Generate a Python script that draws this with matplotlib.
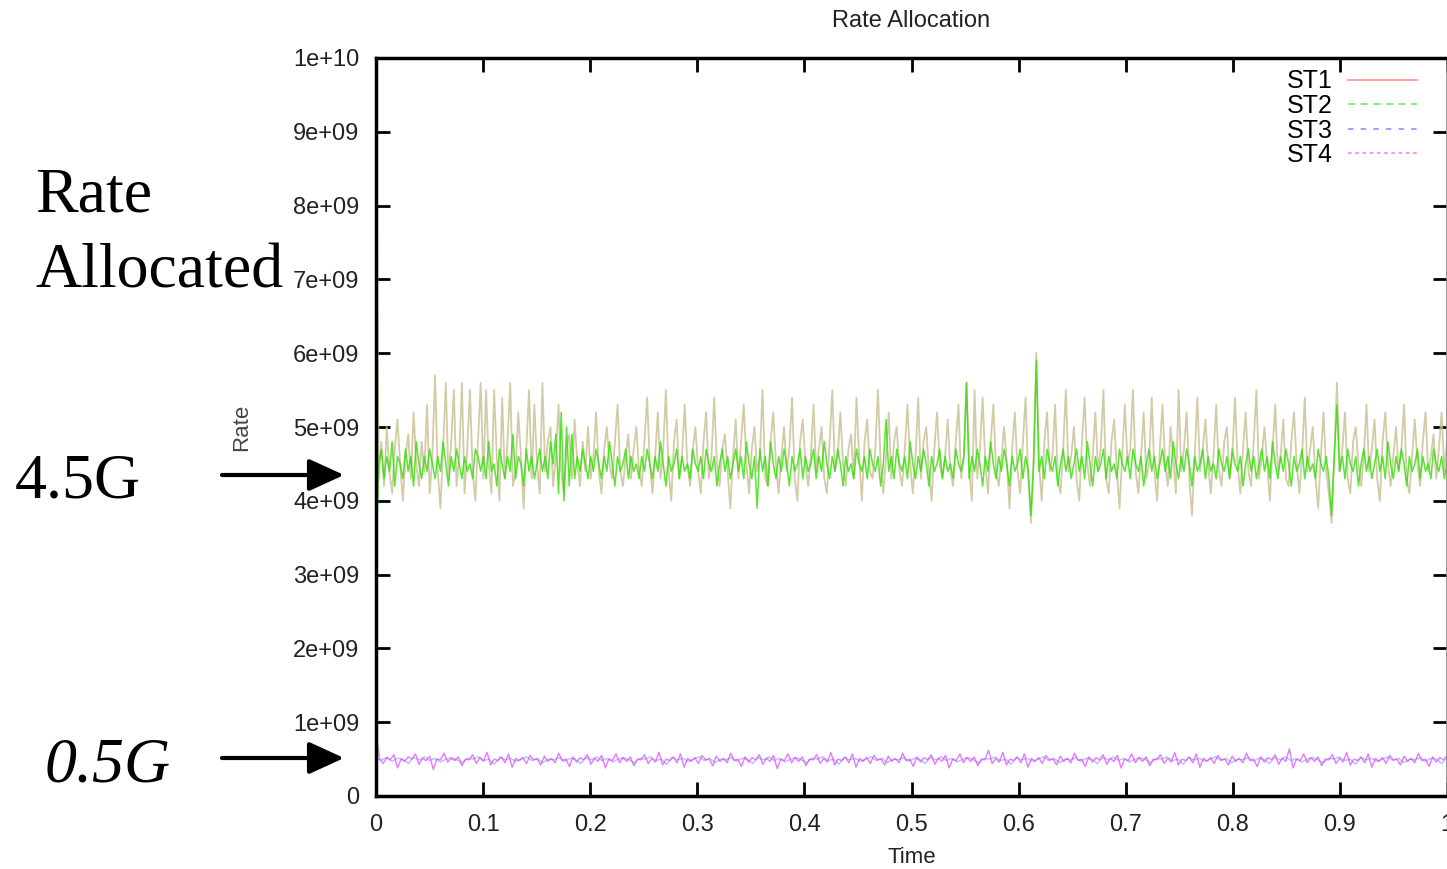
#!/usr/bin/python3

import numpy as np
import matplotlib
matplotlib.use("Agg")
import matplotlib.pyplot as plt

# rates in units of 1e9, sampled evenly over 0..1 s
st1 = [
  10.0, 4.3, 4.8, 4.2, 5.0, 4.4, 4.1, 4.7, 5.1, 4.5, 4.0, 4.6, 4.9, 4.3, 5.2, 4.5, 4.2, 4.8, 4.4, 5.3,
  4.1, 4.6, 5.7, 4.4, 3.9, 4.7, 5.6, 4.3, 4.8, 5.5, 4.2, 4.6, 5.6, 4.1, 4.7, 5.5, 4.4, 4.0, 4.8, 5.6,
  4.3, 5.5, 4.5, 4.1, 5.5, 4.6, 4.0, 5.4, 4.3, 4.8, 5.6, 4.2, 4.4, 5.2, 4.6, 3.9, 4.7, 5.5, 4.3, 5.3,
  4.5, 4.1, 5.6, 4.4, 4.8, 5.0, 4.2, 4.6, 5.3, 4.4, 4.1, 4.7, 4.9, 4.3, 5.1, 4.5, 4.2, 4.8, 4.4, 5.0,
  4.3, 4.6, 5.2, 4.4, 4.1, 4.7, 5.0, 4.5, 4.3, 4.8, 5.3, 4.4, 4.2, 4.6, 4.9, 4.3, 4.7, 5.0, 4.4, 4.2,
  4.8, 5.4, 4.5, 4.1, 4.6, 5.2, 4.3, 4.7, 5.5, 4.4, 4.0, 4.8, 5.1, 4.3, 4.6, 5.3, 4.5, 4.2, 4.7, 5.0,
  4.4, 4.1, 4.8, 5.2, 4.3, 4.6, 5.4, 4.5, 4.2, 4.7, 4.9, 4.4, 3.9, 4.6, 5.1, 4.3, 4.8, 5.3, 4.5, 4.1,
  4.7, 5.0, 4.4, 4.6, 5.5, 4.3, 4.2, 4.8, 5.2, 4.5, 4.1, 4.6, 5.0, 4.4, 4.7, 5.4, 4.3, 4.0, 4.8, 5.1,
  4.5, 4.2, 4.6, 5.3, 4.4, 4.7, 5.0, 4.3, 4.1, 4.8, 5.5, 4.4, 4.6, 5.2, 4.5, 4.2, 4.7, 4.9, 4.3, 5.4,
  4.6, 4.0, 4.8, 5.1, 4.4, 4.3, 4.7, 5.5, 4.5, 4.1, 4.6, 5.2, 4.3, 4.8, 5.0, 4.4, 4.2, 4.7, 5.3, 4.5,
  4.1, 4.6, 5.4, 4.3, 4.8, 5.0, 4.4, 4.0, 4.7, 5.2, 4.5, 4.3, 4.6, 5.1, 4.4, 4.2, 4.8, 5.3, 4.3, 4.6,
  5.6, 4.4, 4.0, 5.5, 4.3, 4.7, 5.4, 4.5, 4.1, 4.8, 5.3, 4.4, 4.2, 4.6, 5.0, 4.5, 3.9, 4.7, 5.2, 4.4,
  4.1, 4.8, 5.4, 4.3, 3.7, 4.6, 6.0, 4.5, 4.0, 4.8, 5.2, 4.4, 4.6, 5.3, 4.3, 4.1, 4.7, 5.5, 4.4, 4.6,
  5.0, 4.3, 4.0, 4.8, 5.4, 4.5, 4.2, 4.6, 5.2, 4.4, 4.7, 5.5, 4.3, 4.1, 4.8, 5.1, 4.4, 3.9, 4.6, 5.3,
  4.5, 4.7, 5.5, 4.4, 4.1, 4.6, 5.2, 4.3, 4.5, 5.4, 4.4, 4.0, 4.7, 5.3, 4.5, 4.2, 5.0, 4.6, 4.1, 5.5,
  4.4, 4.7, 5.2, 4.3, 3.8, 4.6, 5.4, 4.4, 4.7, 5.1, 4.5, 4.1, 4.6, 5.3, 4.4, 4.2, 4.8, 5.0, 4.3, 4.6,
  5.4, 4.5, 4.1, 4.7, 5.2, 4.4, 4.2, 4.8, 5.5, 4.3, 4.6, 5.0, 4.5, 4.0, 4.7, 5.3, 4.4, 4.6, 5.1, 4.3,
  4.2, 4.8, 5.2, 4.5, 4.1, 4.6, 5.4, 4.4, 4.7, 5.0, 4.3, 3.9, 4.6, 5.2, 4.4, 4.1, 3.7, 4.6, 5.6, 4.4,
  4.7, 5.2, 4.3, 4.1, 4.8, 5.0, 4.5, 4.2, 4.6, 5.3, 4.4, 4.7, 5.1, 4.3, 4.0, 4.8, 5.2, 4.5, 4.2, 4.6,
  5.0, 4.4, 4.7, 5.3, 4.3, 4.1, 4.6, 5.1, 4.5, 4.2, 4.8, 5.2, 4.4, 4.6, 4.9, 4.3, 4.7, 5.2, 4.4, 4.8,
]
st2 = [
  3.2, 4.5, 4.7, 4.3, 4.6, 4.4, 4.8, 4.2, 4.6, 4.5, 4.3, 4.7, 4.4, 4.6, 4.2, 4.8, 4.5, 4.3, 4.6, 4.4,
  4.7, 4.5, 4.3, 4.6, 4.4, 4.8, 4.5, 4.2, 4.6, 4.4, 4.7, 4.5, 4.3, 4.6, 4.4, 4.5, 4.3, 4.7, 4.6, 4.4,
  4.6, 4.3, 4.8, 4.4, 4.5, 4.2, 4.7, 4.5, 4.3, 4.6, 4.4, 4.9, 4.3, 4.6, 4.5, 4.2, 4.7, 4.4, 4.6, 4.3,
  4.5, 4.7, 4.4, 4.6, 4.3, 4.8, 4.5, 4.9, 4.1, 5.2, 4.0, 5.0, 4.2, 4.9, 4.3, 4.6, 4.4, 4.7, 4.5, 4.3,
  4.6, 4.4, 4.7, 4.5, 4.3, 4.6, 4.4, 4.8, 4.5, 4.2, 4.6, 4.4, 4.5, 4.7, 4.3, 4.6, 4.4, 4.5, 4.3, 4.6,
  4.4, 4.7, 4.5, 4.3, 4.6, 4.4, 4.8, 4.5, 4.2, 4.6, 4.4, 4.5, 4.7, 4.3, 4.6, 4.4, 4.5, 4.3, 4.7, 4.5,
  4.4, 4.6, 4.3, 4.7, 4.5, 4.4, 4.6, 4.2, 4.5, 4.7, 4.4, 4.6, 4.3, 4.5, 4.7, 4.4, 4.6, 4.3, 4.8, 4.5,
  4.3, 4.6, 3.9, 4.7, 4.4, 4.6, 4.2, 4.8, 4.5, 4.3, 4.6, 4.4, 4.7, 4.5, 4.2, 4.6, 4.4, 4.5, 4.7, 4.3,
  4.6, 4.4, 4.5, 4.7, 4.3, 4.6, 4.4, 4.8, 4.5, 4.3, 4.6, 4.4, 4.7, 4.5, 4.2, 4.6, 4.4, 4.5, 4.3, 4.7,
  4.5, 4.4, 4.6, 4.3, 4.7, 4.5, 4.4, 4.6, 4.2, 4.5, 5.1, 4.4, 4.6, 4.3, 4.7, 4.5, 4.4, 4.6, 4.3, 4.8,
  4.5, 4.3, 4.6, 4.4, 4.7, 4.5, 4.2, 4.6, 4.4, 4.5, 4.7, 4.3, 4.6, 4.4, 4.5, 4.3, 4.7, 4.5, 4.4, 4.6,
  5.6, 4.3, 4.6, 4.4, 4.7, 4.5, 4.2, 4.6, 4.4, 4.8, 4.5, 4.3, 4.6, 4.4, 4.7, 4.5, 4.2, 4.6, 4.4, 4.5,
  4.7, 4.3, 4.6, 4.4, 3.8, 4.5, 5.9, 4.4, 4.6, 4.3, 4.7, 4.5, 4.4, 4.6, 4.2, 4.5, 4.7, 4.4, 4.6, 4.3,
  4.5, 4.7, 4.4, 4.6, 4.3, 4.8, 4.5, 4.2, 4.6, 4.4, 4.5, 4.7, 4.3, 4.6, 4.4, 4.5, 4.3, 4.7, 4.5, 4.4,
  4.6, 4.3, 4.7, 4.5, 4.4, 4.6, 4.2, 4.5, 4.7, 4.4, 4.6, 4.3, 4.5, 4.7, 4.4, 4.6, 4.3, 4.8, 4.5, 4.3,
  4.6, 4.4, 4.7, 4.5, 4.2, 4.6, 4.4, 4.5, 4.7, 4.3, 4.6, 4.4, 4.5, 4.3, 4.7, 4.5, 4.4, 4.6, 4.3, 4.7,
  4.5, 4.4, 4.6, 4.2, 4.5, 4.7, 4.4, 4.6, 4.3, 4.5, 4.7, 4.4, 4.6, 4.3, 4.8, 4.5, 4.3, 4.6, 4.4, 4.7,
  4.5, 4.2, 4.6, 4.4, 4.5, 4.7, 4.3, 4.6, 4.4, 4.5, 4.3, 4.7, 4.5, 4.4, 4.6, 4.3, 3.8, 4.6, 5.3, 4.4,
  4.6, 4.3, 4.7, 4.5, 4.4, 4.6, 4.2, 4.5, 4.7, 4.4, 4.6, 4.3, 4.5, 4.7, 4.4, 4.6, 4.3, 4.8, 4.5, 4.3,
  4.6, 4.4, 4.7, 4.5, 4.2, 4.6, 4.4, 4.5, 4.7, 4.3, 4.6, 4.4, 4.5, 4.3, 4.7, 4.5, 4.4, 4.6, 4.3, 4.5,
]
st3 = [
  0.50, 0.49, 0.52, 0.47, 0.51, 0.50, 0.44, 0.52, 0.49, 0.53, 0.48, 0.51, 0.46, 0.50, 0.52, 0.49, 0.45, 0.51, 0.50, 0.53,
  0.48, 0.50, 0.43, 0.52, 0.49, 0.51, 0.47, 0.50, 0.53, 0.48, 0.51, 0.45, 0.50, 0.49, 0.52, 0.47, 0.51, 0.50, 0.44, 0.52,
  0.49, 0.53, 0.48, 0.51, 0.46, 0.50, 0.52, 0.49, 0.45, 0.51, 0.50, 0.53, 0.48, 0.50, 0.43, 0.52, 0.49, 0.51, 0.47, 0.50,
  0.53, 0.48, 0.51, 0.45, 0.50, 0.49, 0.52, 0.47, 0.51, 0.50, 0.44, 0.52, 0.49, 0.53, 0.48, 0.51, 0.46, 0.50, 0.52, 0.49,
  0.45, 0.51, 0.50, 0.53, 0.48, 0.50, 0.43, 0.52, 0.49, 0.51, 0.47, 0.50, 0.53, 0.48, 0.51, 0.45, 0.50, 0.49, 0.52, 0.47,
  0.51, 0.50, 0.44, 0.52, 0.49, 0.53, 0.48, 0.51, 0.46, 0.50, 0.52, 0.49, 0.45, 0.51, 0.50, 0.53, 0.48, 0.50, 0.43, 0.52,
  0.49, 0.51, 0.47, 0.50, 0.53, 0.48, 0.51, 0.45, 0.50, 0.49, 0.52, 0.47, 0.51, 0.50, 0.44, 0.52, 0.49, 0.53, 0.48, 0.51,
  0.46, 0.50, 0.52, 0.49, 0.45, 0.51, 0.50, 0.53, 0.48, 0.50, 0.43, 0.52, 0.49, 0.51, 0.47, 0.50, 0.53, 0.48, 0.51, 0.45,
  0.50, 0.49, 0.52, 0.47, 0.51, 0.50, 0.44, 0.52, 0.49, 0.53, 0.48, 0.51, 0.46, 0.50, 0.52, 0.49, 0.45, 0.51, 0.50, 0.53,
  0.48, 0.50, 0.43, 0.52, 0.49, 0.51, 0.47, 0.50, 0.53, 0.48, 0.51, 0.45, 0.50, 0.49, 0.52, 0.47, 0.51, 0.50, 0.44, 0.52,
]
st4 = [
  0.85, 0.50, 0.44, 0.52, 0.49, 0.56, 0.38, 0.50, 0.47, 0.53, 0.50, 0.57, 0.43, 0.51, 0.48, 0.54, 0.36, 0.50, 0.49, 0.58,
  0.46, 0.51, 0.48, 0.53, 0.41, 0.50, 0.49, 0.56, 0.44, 0.52, 0.47, 0.59, 0.42, 0.50, 0.48, 0.53, 0.45, 0.57, 0.39, 0.51,
  0.48, 0.52, 0.44, 0.55, 0.49, 0.50, 0.42, 0.54, 0.47, 0.51, 0.45, 0.58, 0.48, 0.50, 0.40, 0.53, 0.46, 0.52, 0.49, 0.56,
  0.43, 0.51, 0.47, 0.55, 0.38, 0.50, 0.48, 0.57, 0.45, 0.52, 0.47, 0.53, 0.41, 0.50, 0.49, 0.56, 0.44, 0.51, 0.46, 0.59,
  0.42, 0.50, 0.48, 0.53, 0.45, 0.57, 0.39, 0.51, 0.47, 0.52, 0.44, 0.55, 0.49, 0.50, 0.41, 0.54, 0.47, 0.51, 0.45, 0.58,
  0.48, 0.50, 0.40, 0.53, 0.46, 0.52, 0.49, 0.56, 0.43, 0.51, 0.47, 0.55, 0.37, 0.50, 0.48, 0.57, 0.45, 0.52, 0.47, 0.53,
  0.41, 0.50, 0.49, 0.56, 0.44, 0.51, 0.46, 0.59, 0.42, 0.50, 0.48, 0.53, 0.45, 0.57, 0.39, 0.51, 0.47, 0.52, 0.44, 0.55,
  0.49, 0.50, 0.42, 0.54, 0.47, 0.51, 0.45, 0.58, 0.48, 0.50, 0.40, 0.53, 0.46, 0.52, 0.49, 0.56, 0.43, 0.51, 0.47, 0.55,
  0.38, 0.50, 0.48, 0.57, 0.45, 0.52, 0.47, 0.53, 0.41, 0.50, 0.49, 0.62, 0.44, 0.51, 0.46, 0.59, 0.42, 0.50, 0.48, 0.53,
  0.45, 0.57, 0.39, 0.51, 0.47, 0.52, 0.44, 0.55, 0.49, 0.50, 0.42, 0.54, 0.47, 0.51, 0.45, 0.58, 0.48, 0.50, 0.40, 0.53,
  0.46, 0.52, 0.49, 0.56, 0.43, 0.51, 0.47, 0.55, 0.38, 0.50, 0.48, 0.57, 0.45, 0.52, 0.47, 0.53, 0.41, 0.50, 0.49, 0.56,
  0.44, 0.51, 0.46, 0.59, 0.42, 0.50, 0.48, 0.53, 0.45, 0.57, 0.39, 0.51, 0.47, 0.52, 0.44, 0.55, 0.49, 0.50, 0.42, 0.54,
  0.47, 0.51, 0.45, 0.58, 0.48, 0.50, 0.40, 0.53, 0.46, 0.52, 0.49, 0.56, 0.43, 0.51, 0.47, 0.64, 0.38, 0.50, 0.48, 0.57,
  0.45, 0.52, 0.47, 0.53, 0.41, 0.50, 0.49, 0.56, 0.44, 0.51, 0.46, 0.59, 0.42, 0.50, 0.48, 0.53, 0.45, 0.57, 0.39, 0.51,
  0.47, 0.52, 0.44, 0.55, 0.49, 0.50, 0.42, 0.54, 0.47, 0.51, 0.45, 0.58, 0.48, 0.50, 0.40, 0.53, 0.46, 0.52, 0.49, 0.55,
]

xticks = [0, 0.1, 0.2, 0.3, 0.4, 0.5, 0.6, 0.7, 0.8, 0.9, 1]
xticklabels = ["0", "0.1", "0.2", "0.3", "0.4", "0.5", "0.6", "0.7", "0.8", "0.9", "1"]
yticks = [0, 1e9, 2e9, 3e9, 4e9, 5e9, 6e9, 7e9, 8e9, 9e9, 1e10]
yticklabels = ["0", "1e+09", "2e+09", "3e+09", "4e+09", "5e+09", "6e+09", "7e+09", "8e+09", "9e+09", "1e+10"]

plt.rcParams["font.family"] = ["Liberation Sans", "DejaVu Sans"]

fig = plt.figure(figsize=(14.47, 8.69), dpi=100)
ax = fig.add_axes([376/1447, 73/869, 1071/1447, 738/869])

def timeaxis(vals):
  return np.linspace(0, 1, len(vals))

ax.plot(timeaxis(st1), np.array(st1)*1e9, color="#c9bf90", lw=1.3, alpha=0.8, label="ST1")
ax.plot(timeaxis(st2), np.array(st2)*1e9, color="#2ee000", lw=1.1, alpha=0.8, label="ST2")
ax.plot(timeaxis(st3), np.array(st3)*1e9, color="#8c8cff", lw=1.0, alpha=0.6, label="ST3")
ax.plot(timeaxis(st4), np.array(st4)*1e9, color="#d845ff", lw=1.0, alpha=0.7, label="ST4")

ax.set_xlim(0, 1)
ax.set_ylim(0, 1e10)
ax.set_xticks(xticks)
ax.set_xticklabels(xticklabels)
ax.set_yticks(yticks)
ax.set_yticklabels(yticklabels)
ax.tick_params(direction="in", length=10, width=2, top=True, right=True, labelsize=17,
               labelcolor="#222222")
ax.tick_params(axis="x", pad=13)
ax.tick_params(axis="y", pad=12)
for side in ["left", "bottom", "top"]:
  ax.spines[side].set_linewidth(2.5)
ax.spines["right"].set_linewidth(1.2)
ax.spines["right"].set_color("#888888")

ax.set_title("Rate Allocation", fontsize=17, color="#222222", pad=22)
ax.set_xlabel("Time", fontsize=16, color="#222222", labelpad=8)
ax.set_ylabel("Rate", fontsize=16, color="#444444")
ax.yaxis.set_label_coords(-0.116, 0.5)

leg = ax.legend(loc="upper right", bbox_to_anchor=(1429/1447, 1-57/869), bbox_transform=fig.transFigure,
                frameon=False, markerfirst=False, fontsize=18, handlelength=2.75, labelspacing=0.02,
                borderpad=0, handletextpad=0.6)
for line, col, ls in zip(leg.get_lines(), ["#ff9a9a", "#77ee77", "#9a9aff", "#ff88ff"],
                         ["-", (0, (4, 3)), (0, (3, 4)), (0, (2, 2))]):
  line.set_color(col)
  line.set_alpha(1)
  line.set_linestyle(ls)
  line.set_linewidth(1.3)

# side annotations
serif = ["Liberation Serif", "DejaVu Serif"]
fig.text(35, 869-212, "Rate", fontsize=46, family=serif, transform=None)
fig.text(35, 869-288, "Allocated", fontsize=46, family=serif, transform=None)
fig.text(15, 869-497, "4.5G", fontsize=46, family=serif, transform=None)
fig.text(45, 869-781, "0.5G", fontsize=46, family=serif, style="italic", transform=None)
for ypix in [475, 758]:
  ax.annotate("", xy=(344, 869-ypix), xytext=(222, 869-ypix), xycoords="figure pixels",
              textcoords="figure pixels",
              arrowprops=dict(arrowstyle="-|>,head_length=0.72,head_width=0.33", mutation_scale=30,
                              lw=3, color="black", shrinkA=0, shrinkB=0))

fig.savefig("out.png", dpi=100)
